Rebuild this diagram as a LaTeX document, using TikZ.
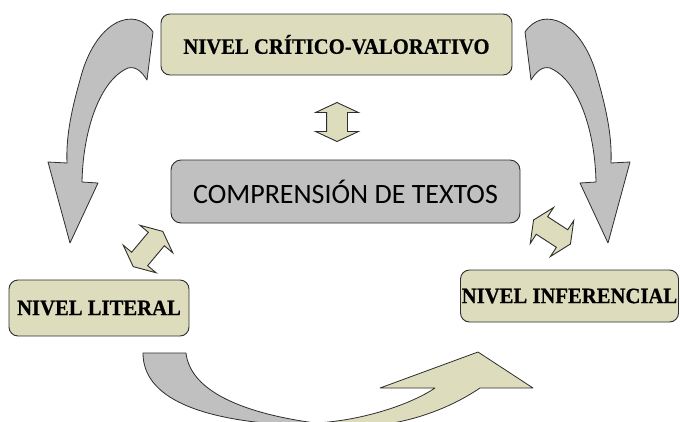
\documentclass[tikz,border=0pt]{standalone}
\usepackage{fontspec}
\usepackage{tikz}
\usetikzlibrary{shapes,arrows,positioning}
\newfontfamily\lvlfont[FakeStretch=0.94,FakeBold=0.6]{Liberation Serif}
\newfontfamily\compfont{Carlito}
\definecolor{beige}{RGB}{221,220,189}
\definecolor{grisbox}{RGB}{192,192,192}
\definecolor{borde}{RGB}{45,45,45}
\tikzset{
  nivel/.style={draw=borde, fill=beige, rounded corners=9pt, line width=0.9pt, inner sep=0pt,
    font=\lvlfont\bfseries\fontsize{22}{24}\selectfont},
  centro/.style={draw=borde, fill=grisbox, rounded corners=10pt, line width=0.9pt, inner sep=0pt,
    font=\compfont\fontsize{28}{30}\selectfont},
  dobleflecha/.style={double arrow, draw=borde, fill=beige, line width=0.9pt, inner xsep=0pt, inner ysep=10pt,
    double arrow head extend=11pt, double arrow tip angle=130, minimum height=#1},
  curva/.style={draw=borde, line width=0.8pt, line join=round}
}

\begin{document}
\begin{tikzpicture}[x=1pt,y=-1pt]
    \useasboundingbox (0,0) rectangle (680,421);

    % big curved arrows
    \filldraw[curva, fill=grisbox] (153,32) .. controls (135,5) and (95,20) .. (80,80)
        .. controls (70,115) and (66,140) .. (67,163) -- (48,162) -- (70,243) -- (98,183) -- (82,182)
        .. controls (83,130) and (100,80) .. (128,68) .. controls (136,66) and (142,72) .. (147,80) -- cycle;
    \filldraw[curva, fill=grisbox] (525,32) .. controls (543,5) and (583,20) .. (598,80)
        .. controls (608,115) and (612,140) .. (611,163) -- (630,162) -- (608,243) -- (580,183) -- (596,182)
        .. controls (595,130) and (578,80) .. (550,68) .. controls (542,66) and (536,72) .. (531,80) -- cycle;
    \begin{scope}
        \clip (0,0) rectangle (680,421);
        \filldraw[curva, fill=grisbox] (143,353) -- (186,353) .. controls (190,388) and (235,412) .. (315,423)
            -- (315,440) -- (290,440) -- (290,425) .. controls (200,420) and (143,398) .. (143,353) -- cycle;
        \filldraw[curva, fill=beige] (315,423) .. controls (360,421) and (410,405) .. (435,388)
            -- (380,388) -- (478,352) -- (533,388) -- (480,388)
            .. controls (455,405) and (420,420) .. (380,425) -- (380,440) -- (315,440) -- cycle;
    \end{scope}

    \node[nivel, minimum width=351pt, minimum height=61pt] (critico) at (336.5,44.5) {NIVEL CRÍTICO-VALORATIVO};
    \node[centro, minimum width=349pt, minimum height=63pt] (comprension) at (345.5,191.5) {COMPRENSIÓN DE TEXTOS};
    \node[nivel, minimum width=180pt, minimum height=56pt] (literal) at (99,308) {NIVEL LITERAL};
    \node[nivel, minimum width=218pt, minimum height=52pt] (inferencial) at (569.5,296) {NIVEL INFERENCIAL};

    \node[dobleflecha=39pt, rotate=90] (flechasup) at (337,122) {};
    \node[dobleflecha=46pt, rotate=50] (flechaizq) at (148,249) {};
    \node[dobleflecha=44pt, rotate=-33] (flechader) at (552,232) {};
\end{tikzpicture}
\end{document}
